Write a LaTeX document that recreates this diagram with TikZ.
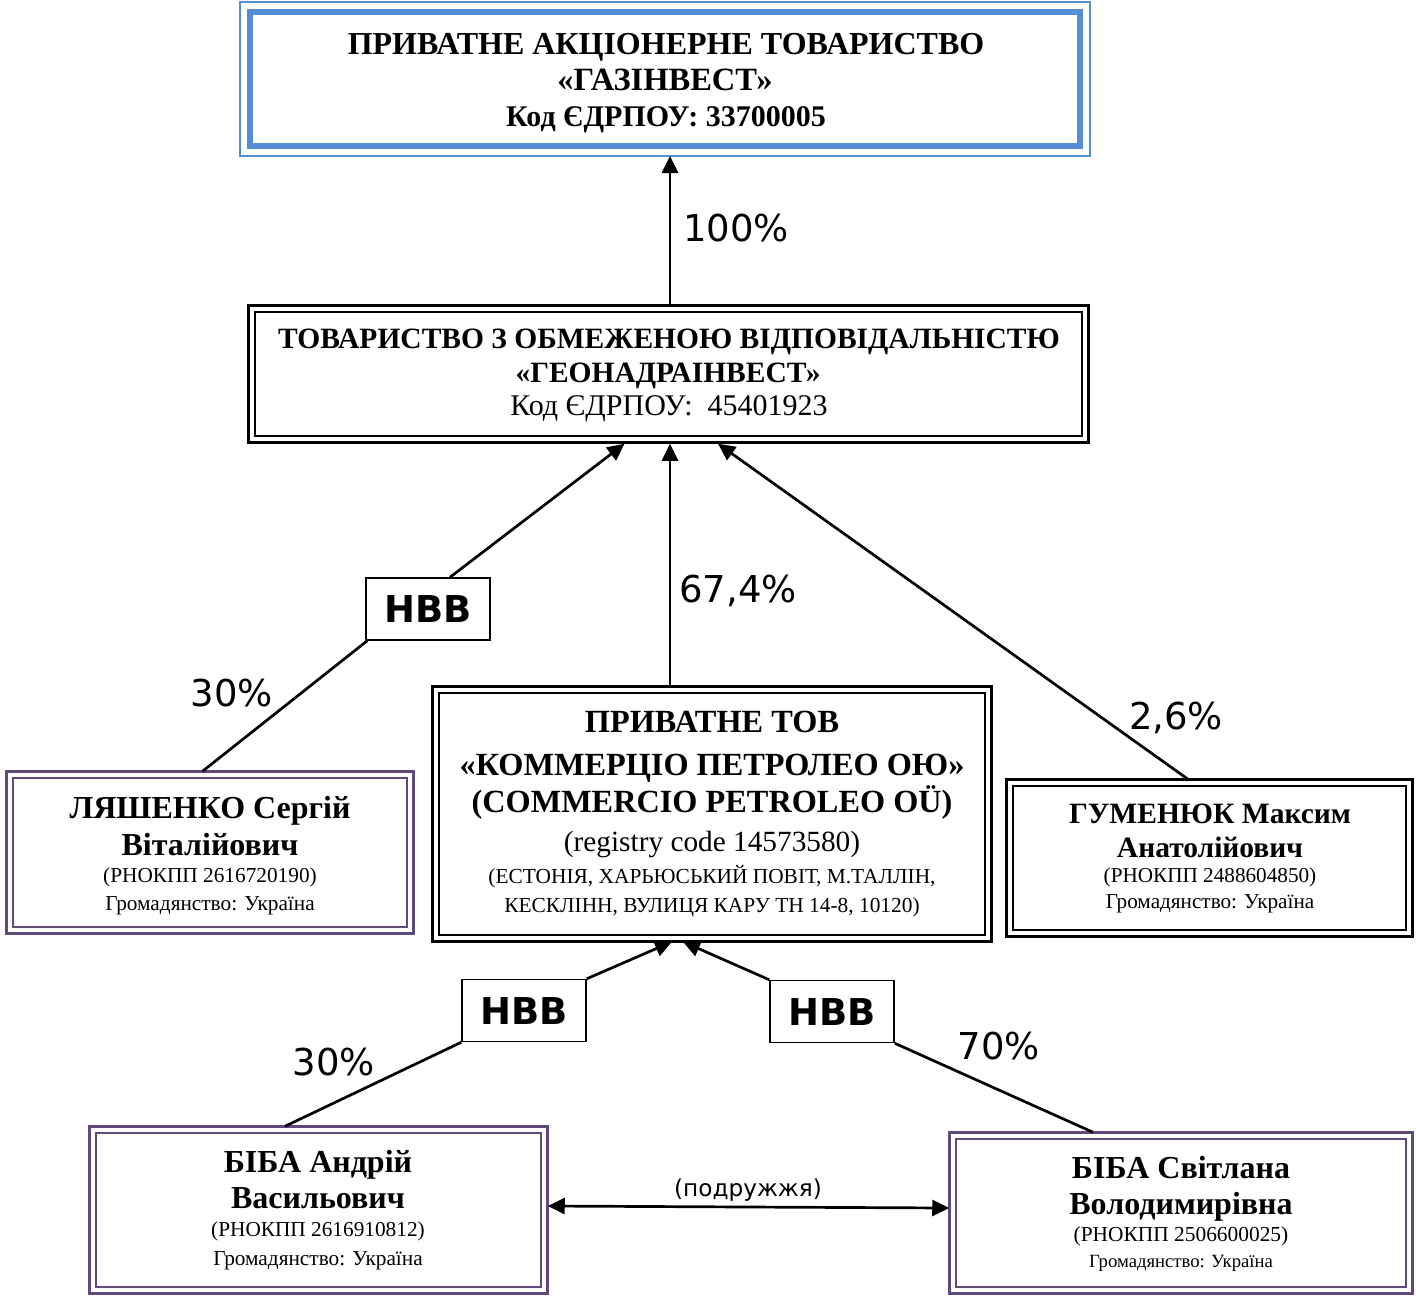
\documentclass[tikz,border=0pt]{standalone}
\usepackage{fontspec}
\setmainfont{Liberation Serif}
\newfontfamily\dejavu{DejaVu Sans}
\usetikzlibrary{arrows.meta}
\definecolor{frameblue}{RGB}{85,142,213}
\definecolor{framepurple}{RGB}{96,74,123}
\newcommand\pxs[1]{\fontsize{#1}{#1}\selectfont}
\tikzset{
  inbox/.style={draw, line width=1.5pt, inner sep=0pt},
  bt/.style={inner sep=0pt, font=\bfseries\pxs{#1}, text height={0.66*#1pt}, text depth=0pt},
  rt/.style={inner sep=0pt, font=\pxs{#1}, text height={0.66*#1pt}, text depth=0pt},
  pct/.style={inner sep=0pt, font=\dejavu\pxs{37}, text height={0.73*37pt}, text depth=0pt},
  hbb/.style={draw, line width=1.5pt, minimum width=124pt, minimum height=62pt, inner sep=0pt, font=\dejavu\bfseries\pxs{37}},
  conn/.style={line width=2.7pt},
  arr/.style={conn, -{Triangle[length=17pt,width=16pt]}},
  outerblack/.style={line width=3pt},
  outerpurple/.style={line width=3pt, draw=framepurple},
}
\begin{document}
\begin{tikzpicture}[x=1pt,y=-1pt]
\useasboundingbox[fill=white] (0,0) rectangle (1416,1296);

% ---------- top box ----------
\node[draw=frameblue, line width=6pt, minimum width=830pt, minimum height=134pt, inner sep=0pt] (top) at (665,79) {};
\draw[frameblue, line width=2pt] ([shift={(-7,-7)}]top.north west) rectangle ([shift={(7,7)}]top.south east);
\node[bt=32] (top1) at (666,44) {ПРИВАТНЕ АКЦІОНЕРНЕ ТОВАРИСТВО};
\node[bt=32.5] (top2) at (665,80) {«ГАЗІНВЕСТ»};
\node[bt=30] (top3) at (666,117) {Код ЄДРПОУ: 33700005};

% ---------- second box ----------
\node[inbox, minimum width=827pt, minimum height=124pt] (geo) at (668.5,374) {};
\draw[outerblack] ([shift={(-6,-6)}]geo.north west) rectangle ([shift={(6,6)}]geo.south east);
\node[bt=29.5] (geo1) at (669,339) {ТОВАРИСТВО З ОБМЕЖЕНОЮ ВІДПОВІДАЛЬНІСТЮ};
\node[bt=29.5] (geo2) at (668,373) {«ГЕОНАДРАІНВЕСТ»};
\node[rt=30] (geo3) at (669,406) {Код ЄДРПОУ:\ \ 45401923};

% ---------- Commercio ----------
\node[inbox, minimum width=546pt, minimum height=242pt] (com) at (712,814) {};
\draw[outerblack] ([shift={(-6,-6)}]com.north west) rectangle ([shift={(6,6)}]com.south east);
\node[bt=32.3] (com1) at (712,722) {ПРИВАТНЕ ТОВ};
\node[bt=32.3] (com2) at (712,765) {«КОММЕРЦІО ПЕТРОЛЕО ОЮ»};
\node[bt=32.3] (com3) at (712,802) {(COMMERCIO PETROLEO OÜ)};
\node[rt=29.3] (com4) at (712,842) {(registry code 14573580)};
\node[rt=21.4] (com5) at (712,876) {(ЕСТОНІЯ, ХАРЬЮСЬКИЙ ПОВІТ, М.ТАЛЛІН,};
\node[rt=21.4] (com6) at (712,905) {КЕСКЛІНН, ВУЛИЦЯ КАРУ ТН 14-8, 10120)};

% ---------- Lyashenko ----------
\node[inbox, draw=framepurple, minimum width=394pt, minimum height=149pt] (lya) at (210,852.5) {};
\draw[outerpurple] ([shift={(-6,-6)}]lya.north west) rectangle ([shift={(6,6)}]lya.south east);
\node[bt=32] (lya1) at (210,808) {ЛЯШЕНКО Сергій};
\node[bt=32] (lya2) at (210,845) {Віталійович};
\node[rt=21.3] (lya3) at (210,875) {(РНОКПП 2616720190)};
\node[rt=21.3] (lya4) at (210,903) {Громадянство: Україна};

% ---------- Gumeniuk ----------
\node[inbox, minimum width=393pt, minimum height=144pt] (gum) at (1209.5,858) {};
\draw[outerblack] ([shift={(-6,-6)}]gum.north west) rectangle ([shift={(6,6)}]gum.south east);
\node[bt=29.5] (gum1) at (1210,814) {ГУМЕНЮК Максим};
\node[bt=29.5] (gum2) at (1210,848) {Анатолійович};
\node[rt=21.2] (gum3) at (1210,875) {(РНОКПП 2488604850)};
\node[rt=21.2] (gum4) at (1210,901) {Громадянство: Україна};

% ---------- Biba A ----------
\node[inbox, draw=framepurple, minimum width=445pt, minimum height=154pt] (bia) at (318.5,1210) {};
\draw[outerpurple] ([shift={(-6,-6)}]bia.north west) rectangle ([shift={(6,6)}]bia.south east);
\node[bt=32] (bia1) at (318,1162) {БІБА Андрій};
\node[bt=32] (bia2) at (318,1198) {Васильович};
\node[rt=21.3] (bia3) at (318,1229) {(РНОКПП 2616910812)};
\node[rt=21.3] (bia4) at (318,1258) {Громадянство: Україна};

% ---------- Biba S ----------
\node[inbox, draw=framepurple, minimum width=450pt, minimum height=148pt] (bis) at (1181,1213) {};
\draw[outerpurple] ([shift={(-6,-6)}]bis.north west) rectangle ([shift={(6,6)}]bis.south east);
\node[bt=32] (bis1) at (1181,1168) {БІБА Світлана};
\node[bt=32] (bis2) at (1181,1204) {Володимирівна};
\node[rt=21.4] (bis3) at (1181,1234) {(РНОКПП 2506600025)};
\node[rt=18.7] (bis4) at (1181,1261) {Громадянство: Україна};

% ---------- HBB boxes ----------
\node[hbb] (hbb1) at (428,609) {НВВ};
\node[hbb] (hbb2) at (524,1010.5) {НВВ};
\node[hbb] (hbb3) at (832,1011.5) {НВВ};

% ---------- connectors ----------
\draw[arr] ([shift={(1.5,-6)}]geo.north) -- ([shift={(5,7)}]top.south);
\draw[arr] ([xshift=22]hbb1.north) -- ([shift={(-44,7)}]geo.south);
\draw[arr] ([shift={(-42,-6)}]com.north) -- ([shift={(1.5,7)}]geo.south);
\draw[arr] ([shift={(-21.5,-6)}]gum.north) -- ([shift={(49.5,7)}]geo.south);
\draw[conn] ([xshift=2]hbb1.south west) -- ([shift={(-7.5,-6)}]lya.north);
\draw[arr] (hbb2.north east) -- ([shift={(-40,6)}]com.south);
\draw[arr] (hbb3.north west) -- ([shift={(-29,6)}]com.south);
\draw[conn] (hbb2.south west) -- ([shift={(-33.5,-6)}]bia.north);
\draw[conn] (hbb3.south east) -- ([shift={(-88,-6)}]bis.north);
\draw[conn, {Triangle[length=17pt,width=16pt]}-{Triangle[length=17pt,width=16pt]}] ([shift={(6,-4)}]bia.east) -- ([shift={(-6,-5)}]bis.west);

% ---------- labels ----------
\node[pct] (p100) at (736,228) {100\%};
\node[pct] (p674) at (738,589) {67,4\%};
\node[pct] (p26) at (1176,716) {2,6\%};
\node[pct] (p30a) at (232,693) {30\%};
\node[pct] (p30b) at (334,1062) {30\%};
\node[pct] (p70) at (999,1046) {70\%};
\node[inner sep=0pt, font=\dejavu\pxs{23.2}] (spouse) at (748,1190) {(подружжя)};
\end{tikzpicture}
\end{document}
